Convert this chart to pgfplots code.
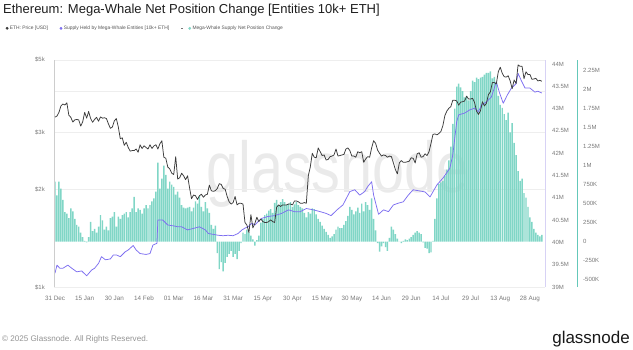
\documentclass[border=0pt]{standalone}
\usepackage{pgfplots}
\pgfplotsset{compat=1.18}
\usepackage{pgfplotstable}
\usepackage{graphicx}
\usepackage{fontspec}
\setmainfont{Liberation Sans}
\definecolor{pricecol}{RGB}{58,58,58}
\definecolor{supplycol}{RGB}{125,110,240}
\definecolor{barcol}{RGB}{128,214,198}
\definecolor{tealaxis}{RGB}{100,200,185}
\definecolor{lavaxis}{RGB}{215,210,245}
\definecolor{gridcol}{RGB}{238,238,238}
\definecolor{axisgray}{RGB}{205,205,205}
\definecolor{labelgray}{RGB}{120,120,120}
\definecolor{legtext}{RGB}{85,85,85}
\definecolor{titlecol}{RGB}{30,30,30}
\definecolor{wmcol}{RGB}{234,234,234}

\pgfplotstableread{
d p
0 3335
1 3360
2 3450
3 3610
4 3660
5 3635
6 3690
7 3380
8 3330
9 3220
10 3270
11 3280
12 3270
13 3130
14 3225
15 3450
16 3310
17 3470
18 3305
19 3215
20 3280
21 3330
22 3240
23 3340
24 3310
25 3320
26 3300
27 3180
28 3080
29 3110
30 3250
31 3300
32 3110
33 2860
34 2880
35 2730
36 2790
37 2690
38 2620
39 2630
40 2630
41 2660
42 2600
43 2740
44 2670
45 2720
46 2690
47 2660
48 2740
49 2670
50 2720
51 2740
52 2660
53 2760
54 2820
55 2510
56 2490
57 2340
58 2310
59 2240
60 2220
61 2520
62 2150
63 2170
64 2240
65 2200
66 2140
67 2200
68 2020
69 1870
70 1920
71 1910
72 1860
73 1910
74 1930
75 1890
76 1920
77 1930
78 2060
79 1980
80 1970
81 1980
82 2010
83 2080
84 2070
85 2010
86 2000
87 1900
88 1830
89 1800
90 1820
91 1900
92 1790
93 1810
94 1810
95 1800
96 1580
97 1550
98 1470
99 1670
100 1520
101 1570
102 1640
103 1590
104 1620
105 1590
106 1580
107 1580
108 1590
109 1610
110 1590
111 1580
112 1760
113 1790
114 1770
115 1790
116 1790
117 1790
118 1800
119 1800
120 1790
121 1840
122 1840
123 1830
124 1810
125 1810
126 1820
127 1810
128 2200
129 2340
130 2580
131 2510
132 2500
133 2680
134 2610
135 2540
136 2550
137 2460
138 2470
139 2520
140 2530
141 2550
142 2660
143 2530
144 2540
145 2550
146 2560
147 2660
148 2680
149 2630
150 2530
151 2530
152 2510
153 2610
154 2590
155 2610
156 2420
157 2480
158 2520
159 2510
160 2680
161 2820
162 2770
163 2640
164 2580
165 2530
166 2550
167 2540
168 2510
169 2530
170 2520
171 2410
172 2300
173 2230
174 2410
175 2450
176 2420
177 2420
178 2430
179 2440
180 2500
181 2490
182 2410
183 2570
184 2590
185 2510
186 2520
187 2570
188 2540
189 2610
190 2770
191 2950
192 2960
193 2940
194 2970
195 3010
196 3140
197 3370
198 3480
199 3550
200 3590
201 3760
202 3760
203 3740
204 3630
205 3710
206 3720
207 3740
208 3870
209 3790
210 3790
211 3810
212 3700
213 3480
214 3400
215 3490
216 3720
217 3610
218 3680
219 3910
220 3990
221 4260
222 4260
223 4220
224 4600
225 4750
226 4550
227 4440
228 4430
229 4470
230 4310
231 4080
232 4340
233 4230
234 4830
235 4780
236 4780
237 4380
238 4600
239 4510
240 4510
241 4360
242 4370
243 4390
244 4310
245 4330
246 4300
}\pricetab

\pgfplotstableread{
d s
0 39.31
1 39.49
2.5 39.42
4 39.42
6.5 39.49
8.5 39.42
11 39.34
13.5 39.36
16 39.25
18.5 39.38
20 39.42
22 39.53
23.5 39.68
25.5 39.61
28 39.63
29.5 39.72
31 39.72
33 39.68
35.5 39.79
37 39.83
39.5 39.93
41 39.83
43 39.75
46 39.73
48 39.75
49.5 39.94
51.5 39.98
52 40.50
54.5 40.50
57 40.39
60 40.37
62 40.35
64 40.35
67 40.28
70.5 40.32
73 40.35
76 40.28
77.5 40.20
80 40.18
82.5 40.16
85 40.15
87.5 40.16
90 40.15
92.5 40.20
94.5 40.28
96 40.32
97.5 40.35
99.5 40.43
101 40.39
102.5 40.46
104.5 40.54
107.5 40.58
111 40.60
114.5 40.65
118 40.73
121 40.69
124 40.69
127 40.76
130.5 40.73
134 40.69
137 40.65
139.5 40.60
142.5 40.73
145.5 40.84
149 41.14
151.5 41.18
154 41.06
156.5 41.14
158 41.25
160 41.36
161 41.06
163.5 40.63
166 40.73
168.5 40.69
171 40.84
173.5 40.88
176 40.91
178.5 41.06
181 41.18
183.5 41.16
186 41.14
187 41.13
189.5 41.02
193 41.29
196 41.44
199.5 41.66
201 41.96
203 42.71
204 42.86
207 42.90
209.5 42.97
212 43.01
214 42.93
215.5 43.08
218 43.15
220.5 43.26
223 43.60
224.5 43.37
226.5 43.12
228.5 43.30
230.5 43.45
233 43.56
234 43.79
235.5 43.64
237.5 43.46
240 43.46
242.5 43.37
244 43.39
246 43.35
}\supplytab

\pgfplotstableread{
d n
0 0.79
1 0.61
2 0.79
3 0.70
4 0.55
5 0.39
6 0.37
7 0.31
8 0.44
9 0.40
10 0.30
11 0.22
12 0.20
13 0.12
14 0.06
15 0.01
16 -0.01
17 0.06
18 0.26
19 0.14
20 0.17
21 0.12
22 0.20
23 0.35
24 0.28
25 0.16
26 0.20
27 0.15
28 0.31
29 0.33
30 0.39
31 0.20
32 0.33
33 0.30
34 0.35
35 0.37
36 0.39
37 0.32
38 0.39
39 0.44
40 0.59
41 0.39
42 0.44
43 0.42
44 0.37
45 0.44
46 0.48
47 0.44
48 0.48
49 0.53
50 0.57
51 0.66
52 1.04
53 0.70
54 0.83
55 1.00
56 0.88
57 0.70
58 0.79
59 0.75
60 0.72
61 0.62
62 0.66
63 0.58
64 0.48
65 0.45
66 0.44
67 0.45
68 0.46
69 0.40
70 0.45
71 0.53
72 0.50
73 0.60
74 0.46
75 0.40
76 0.52
77 0.44
78 0.38
79 0.22
80 0.17
81 0.21
82 -0.15
83 -0.36
84 -0.27
85 -0.39
86 -0.28
87 -0.20
88 -0.16
89 -0.12
90 -0.20
91 -0.16
92 -0.23
93 -0.12
94 -0.02
95 0.12
96 0.10
97 0.16
98 0.12
99 0.08
100 0.03
101 -0.05
102 0.02
103 0.08
104 0.25
105 0.30
106 0.35
107 0.37
108 0.41
109 0.43
110 0.38
111 0.51
112 0.55
113 0.48
114 0.52
115 0.56
116 0.52
117 0.48
118 0.50
119 0.52
120 0.46
121 0.49
122 0.52
123 0.48
124 0.46
125 0.44
126 0.38
127 0.32
128 0.39
129 0.37
130 0.44
131 0.43
132 0.36
133 0.30
134 0.26
135 0.21
136 0.17
137 0.13
138 0.09
139 0.05
140 0.07
141 0.10
142 0.16
143 0.20
144 0.18
145 0.18
146 0.22
147 0.27
148 0.34
149 0.46
150 0.42
151 0.36
152 0.40
153 0.45
154 0.38
155 0.50
156 0.40
157 0.52
158 0.48
159 0.42
160 0.57
161 0.30
162 0.15
163 -0.02
164 -0.13
165 -0.06
166 -0.02
167 -0.07
168 -0.12
169 0.05
170 0.20
171 0.16
172 0.10
173 0.04
174 0.00
175 -0.02
176 0.01
177 0.03
178 0.02
179 0.04
180 0.06
181 0.09
182 0.12
183 0.14
184 0.12
185 0.10
186 -0.01
187 -0.08
188 -0.09
189 -0.15
190 -0.14
191 0.01
192 0.30
193 0.57
194 0.76
195 0.78
196 0.80
197 0.87
198 0.95
199 1.07
200 1.25
201 1.55
202 1.75
203 2.04
204 2.08
205 2.03
206 1.98
207 1.90
208 1.92
209 1.86
210 1.98
211 2.12
212 2.10
213 2.16
214 2.14
215 2.16
216 2.17
217 2.20
218 2.22
219 2.22
220 2.24
221 2.15
222 2.17
223 2.10
224 1.92
225 1.80
226 1.76
227 1.68
228 1.60
229 1.70
230 1.44
231 1.56
232 1.30
233 1.14
234 0.93
235 0.80
236 0.83
237 0.64
238 0.58
239 0.46
240 0.32
241 0.26
242 0.17
243 0.12
244 0.09
245 0.07
246 0.09
}\nettab

\pgfplotsset{
  base/.style={
    at={(54pt,62pt)}, anchor=south west,
    scale only axis, width=491pt, height=227pt,
    xmin=-0.5, xmax=247.6,
    clip mode=individual,
    major tick length=0pt,
    tick style={draw=none},
    /pgf/number format/assume math mode=true,
    tick label style={font=\fontsize{6}{7}\selectfont, text=labelgray, inner sep=0pt},
  }
}

\begin{document}
\begin{tikzpicture}
\path[use as bounding box] (0,0) rectangle (633pt,349pt);

% watermark
\node[anchor=base west, inner sep=0pt, text=wmcol, font=\fontsize{72}{72}\selectfont] at (206pt,157pt) {\scalebox{0.8}[1]{glassnode}};

% grid axis
\begin{axis}[base,
  ymode=log, ymin=1000, ymax=5000,
  axis line style={draw=none},
  xtick=\empty,
  ytick={1000,2000,3000,4000,5000}, yticklabels={,,,,},
  ymajorgrids, grid style={draw=gridcol, line width=0.5pt},
]
\end{axis}

% net position change bars
\begin{axis}[base,
  ymin=-0.596, ymax=2.391,
  axis x line=none, axis y line*=right,
  y axis line style={draw=none},
  ytick={-0.5,-0.25,0,0.25,0.5,0.75,1,1.25,1.5,1.75,2,2.25},
  yticklabels={-500K,-250K,0,250K,500K,750K,1M,1.25M,1.5M,1.75M,2M,2.25M},
  yticklabel style={anchor=west, xshift=38pt},
]
\addplot[ybar, bar width=1.45pt, fill=barcol, draw=none] table[x=d, y=n] {\nettab};
\draw[tealaxis, line width=0.8pt] ([xshift=32pt]rel axis cs:1,0) -- ([xshift=32pt]rel axis cs:1,1);
\end{axis}

% supply held
\begin{axis}[base,
  ymin=39, ymax=44.09,
  axis x line=none, axis y line*=right,
  y axis line style={draw=lavaxis, line width=0.8pt},
  ytick={39,39.5,40,40.5,41,41.5,42,42.5,43,43.5,44},
  yticklabels={39M,39.5M,40M,40.5M,41M,41.5M,42M,42.5M,43M,43.5M,44M},
  yticklabel style={anchor=west, xshift=7pt},
]
\addplot[supplycol, line width=0.75pt, line join=round] table[x=d, y=s] {\supplytab};
\end{axis}

% price
\begin{axis}[base,
  ymode=log, ymin=1000, ymax=5000,
  axis x line*=bottom, axis y line*=left,
  x axis line style={draw=none},
  y axis line style={draw=axisgray, line width=0.9pt},
  ytick={1000,2000,3000,5000},
  yticklabels={\$1k,\$2k,\$3k,\$5k},
  yticklabel style={anchor=east, xshift=-9pt},
  xtick={0,15,30,45,60,75,90,105,120,135,150,165,180,195,210,225,240},
  xticklabels={31 Dec,15 Jan,30 Jan,14 Feb,01 Mar,16 Mar,31 Mar,15 Apr,30 Apr,15 May,30 May,14 Jun,29 Jun,14 Jul,29 Jul,13 Aug,28 Aug},
  xticklabel style={anchor=north, yshift=-9pt, font=\fontsize{6.3}{7}\selectfont},
  legend columns=-1,
  legend cell align=left,
  legend style={draw=none, fill=none, at={(-0.0988,1.1396)}, anchor=west,
    font=\fontsize{4.9}{5.5}\selectfont, text=legtext, inner sep=0pt,
    nodes={inner sep=0.6pt},
    /tikz/every odd column/.append style={column sep=0.8pt},
    /tikz/every even column/.append style={column sep=11pt}},
]
\addplot[pricecol, line width=0.75pt, line join=round, forget plot] table[x=d, y=p] {\pricetab};
\addlegendimage{legend image code/.code={\fill[pricecol] (0pt,0pt) circle (1.2pt);}}
\addlegendentry{ETH: Price [USD]}
\addlegendimage{legend image code/.code={\fill[supplycol] (0pt,0pt) circle (1.2pt);}}
\addlegendentry{Supply Held by Mega-Whale Entities [10k+ ETH]}
\addlegendimage{legend image code/.code={\draw[labelgray, line width=0.4pt] (-8.6pt,0pt) -- (-6.6pt,0pt); \fill[barcol] (0pt,0pt) circle (1.2pt);}}
\addlegendentry{Mega-Whale Supply Net Position Change}
\end{axis}

% title
\node[anchor=base west, inner sep=0pt, text=titlecol, font=\fontsize{13}{15}\selectfont] at (3pt,335.7pt) {Ethereum: Mega-Whale Net Position Change [Entities 10k+ ETH]};
% footer
\node[anchor=base west, inner sep=0pt, text=labelgray!80, font=\fontsize{8.1}{9}\selectfont] at (2pt,8pt) {\textcopyright{} 2025 Glassnode. All Rights Reserved.};
\node[anchor=base east, inner sep=0pt, text=black!90, font=\fontsize{17}{18}\selectfont] at (630pt,6pt) {glassnode};
\end{tikzpicture}
\end{document}
